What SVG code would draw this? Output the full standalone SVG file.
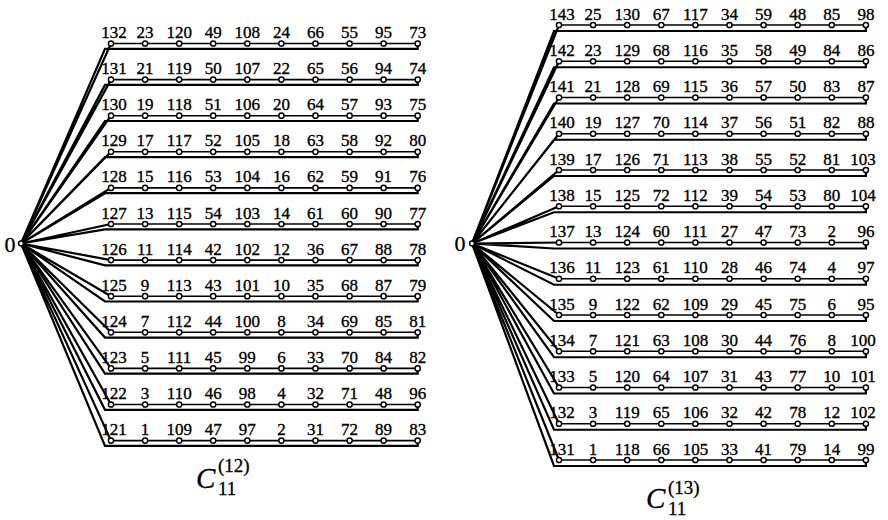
<svg xmlns="http://www.w3.org/2000/svg" width="888" height="520" viewBox="0 0 888 520">
<style>
  .thin { fill: none; stroke: #000; stroke-width: 1.6; }
  .thick { fill: none; stroke: #000; stroke-width: 2.2; stroke-linejoin: miter; }
  .v { fill: #fff; stroke: #000; stroke-width: 1.5; }
  .t { font-family: "Liberation Serif", "Times New Roman", serif; font-size: 17px; text-anchor: middle; fill: #000; stroke: #000; stroke-width: 0.35; }
  .hub { font-family: "Liberation Serif", "Times New Roman", serif; font-size: 22px; text-anchor: middle; fill: #000; stroke: #000; stroke-width: 0.3; }
  .cap { font-family: "Liberation Serif", "Times New Roman", serif; font-size: 29px; font-style: italic; fill: #000; stroke: #000; stroke-width: 0.3; }
  .idx { font-family: "Liberation Serif", "Times New Roman", serif; font-size: 19px; fill: #000; stroke: #000; stroke-width: 0.3; }
</style>
<rect width="888" height="520" fill="#fff"/>

<!-- connectors: each row is a cycle hub -> path of ten vertices -> return line -> hub -->
<g id="connectors">
  <g id="left-edges">
    <path class="thin" d="M111 43.5H417.7"/><path class="thick" d="M111 43.5L21 243.5L105 48.8H417.7V43.5"/>
    <path class="thin" d="M111 79.6H417.7"/><path class="thick" d="M111 79.6L21 243.5L105 84.9H417.7V79.6"/>
    <path class="thin" d="M111 115.7H417.7"/><path class="thick" d="M111 115.7L21 243.5L105 121H417.7V115.7"/>
    <path class="thin" d="M111 151.8H417.7"/><path class="thick" d="M111 151.8L21 243.5L105 157.1H417.7V151.8"/>
    <path class="thin" d="M111 187.9H417.7"/><path class="thick" d="M111 187.9L21 243.5L105 193.2H417.7V187.9"/>
    <path class="thin" d="M111 224H417.7"/><path class="thick" d="M111 224L21 243.5L105 229.3H417.7V224"/>
    <path class="thin" d="M111 260.1H417.7"/><path class="thick" d="M111 260.1L21 243.5L105 265.4H417.7V260.1"/>
    <path class="thin" d="M111 296.2H417.7"/><path class="thick" d="M111 296.2L21 243.5L105 301.5H417.7V296.2"/>
    <path class="thin" d="M111 332.3H417.7"/><path class="thick" d="M111 332.3L21 243.5L105 337.6H417.7V332.3"/>
    <path class="thin" d="M111 368.4H417.7"/><path class="thick" d="M111 368.4L21 243.5L105 373.7H417.7V368.4"/>
    <path class="thin" d="M111 404.5H417.7"/><path class="thick" d="M111 404.5L21 243.5L105 409.8H417.7V404.5"/>
    <path class="thin" d="M111 440.6H417.7"/><path class="thick" d="M111 440.6L21 243.5L105 445.9H417.7V440.6"/>
  </g>
  <g id="right-edges">
    <path class="thin" d="M559 25H865.9"/><path class="thick" d="M559 25L472 243.5L554 31H865.9V25"/>
    <path class="thin" d="M559 61.25H865.9"/><path class="thick" d="M559 61.25L472 243.5L554 67.25H865.9V61.25"/>
    <path class="thin" d="M559 97.5H865.9"/><path class="thick" d="M559 97.5L472 243.5L554 103.5H865.9V97.5"/>
    <path class="thin" d="M559 133.75H865.9"/><path class="thick" d="M559 133.75L472 243.5L554 139.75H865.9V133.75"/>
    <path class="thin" d="M559 170H865.9"/><path class="thick" d="M559 170L472 243.5L554 176H865.9V170"/>
    <path class="thin" d="M559 206.25H865.9"/><path class="thick" d="M559 206.25L472 243.5L554 212.25H865.9V206.25"/>
    <path class="thin" d="M559 242.5H865.9"/><path class="thick" d="M559 242.5L472 243.5L554 248.5H865.9V242.5"/>
    <path class="thin" d="M559 278.75H865.9"/><path class="thick" d="M559 278.75L472 243.5L554 284.75H865.9V278.75"/>
    <path class="thin" d="M559 315H865.9"/><path class="thick" d="M559 315L472 243.5L554 321H865.9V315"/>
    <path class="thin" d="M559 351.25H865.9"/><path class="thick" d="M559 351.25L472 243.5L554 357.25H865.9V351.25"/>
    <path class="thin" d="M559 387.5H865.9"/><path class="thick" d="M559 387.5L472 243.5L554 393.5H865.9V387.5"/>
    <path class="thin" d="M559 423.75H865.9"/><path class="thick" d="M559 423.75L472 243.5L554 429.75H865.9V423.75"/>
    <path class="thin" d="M559 460H865.9"/><path class="thick" d="M559 460L472 243.5L554 466H865.9V460"/>
  </g>
</g>

<!-- left graph C11^(12) -->
<g id="a0"><circle class="v" cx="21" cy="243.5" r="2.4"/><text class="hub" x="10" y="252">0</text></g>

<g id="a-row1">
<g id="a1-1" transform="translate(111 43.5)"><circle class="v" r="2.6"/><text class="t" x="3" y="-5.5">132</text></g>
<g id="a1-2" transform="translate(145.1 43.5)"><circle class="v" r="2.6"/><text class="t" y="-5.5">23</text></g>
<g id="a1-3" transform="translate(179.2 43.5)"><circle class="v" r="2.6"/><text class="t" y="-5.5">120</text></g>
<g id="a1-4" transform="translate(213.2 43.5)"><circle class="v" r="2.6"/><text class="t" y="-5.5">49</text></g>
<g id="a1-5" transform="translate(247.3 43.5)"><circle class="v" r="2.6"/><text class="t" y="-5.5">108</text></g>
<g id="a1-6" transform="translate(281.4 43.5)"><circle class="v" r="2.6"/><text class="t" y="-5.5">24</text></g>
<g id="a1-7" transform="translate(315.5 43.5)"><circle class="v" r="2.6"/><text class="t" y="-5.5">66</text></g>
<g id="a1-8" transform="translate(349.6 43.5)"><circle class="v" r="2.6"/><text class="t" y="-5.5">55</text></g>
<g id="a1-9" transform="translate(383.6 43.5)"><circle class="v" r="2.6"/><text class="t" y="-5.5">95</text></g>
<g id="a1-10" transform="translate(417.7 43.5)"><circle class="v" r="2.6"/><text class="t" y="-5.5">73</text></g>
</g>
<g id="a-row2">
<g id="a2-1" transform="translate(111 79.6)"><circle class="v" r="2.6"/><text class="t" x="3" y="-5.5">131</text></g>
<g id="a2-2" transform="translate(145.1 79.6)"><circle class="v" r="2.6"/><text class="t" y="-5.5">21</text></g>
<g id="a2-3" transform="translate(179.2 79.6)"><circle class="v" r="2.6"/><text class="t" y="-5.5">119</text></g>
<g id="a2-4" transform="translate(213.2 79.6)"><circle class="v" r="2.6"/><text class="t" y="-5.5">50</text></g>
<g id="a2-5" transform="translate(247.3 79.6)"><circle class="v" r="2.6"/><text class="t" y="-5.5">107</text></g>
<g id="a2-6" transform="translate(281.4 79.6)"><circle class="v" r="2.6"/><text class="t" y="-5.5">22</text></g>
<g id="a2-7" transform="translate(315.5 79.6)"><circle class="v" r="2.6"/><text class="t" y="-5.5">65</text></g>
<g id="a2-8" transform="translate(349.6 79.6)"><circle class="v" r="2.6"/><text class="t" y="-5.5">56</text></g>
<g id="a2-9" transform="translate(383.6 79.6)"><circle class="v" r="2.6"/><text class="t" y="-5.5">94</text></g>
<g id="a2-10" transform="translate(417.7 79.6)"><circle class="v" r="2.6"/><text class="t" y="-5.5">74</text></g>
</g>
<g id="a-row3">
<g id="a3-1" transform="translate(111 115.7)"><circle class="v" r="2.6"/><text class="t" x="3" y="-5.5">130</text></g>
<g id="a3-2" transform="translate(145.1 115.7)"><circle class="v" r="2.6"/><text class="t" y="-5.5">19</text></g>
<g id="a3-3" transform="translate(179.2 115.7)"><circle class="v" r="2.6"/><text class="t" y="-5.5">118</text></g>
<g id="a3-4" transform="translate(213.2 115.7)"><circle class="v" r="2.6"/><text class="t" y="-5.5">51</text></g>
<g id="a3-5" transform="translate(247.3 115.7)"><circle class="v" r="2.6"/><text class="t" y="-5.5">106</text></g>
<g id="a3-6" transform="translate(281.4 115.7)"><circle class="v" r="2.6"/><text class="t" y="-5.5">20</text></g>
<g id="a3-7" transform="translate(315.5 115.7)"><circle class="v" r="2.6"/><text class="t" y="-5.5">64</text></g>
<g id="a3-8" transform="translate(349.6 115.7)"><circle class="v" r="2.6"/><text class="t" y="-5.5">57</text></g>
<g id="a3-9" transform="translate(383.6 115.7)"><circle class="v" r="2.6"/><text class="t" y="-5.5">93</text></g>
<g id="a3-10" transform="translate(417.7 115.7)"><circle class="v" r="2.6"/><text class="t" y="-5.5">75</text></g>
</g>
<g id="a-row4">
<g id="a4-1" transform="translate(111 151.8)"><circle class="v" r="2.6"/><text class="t" x="3" y="-5.5">129</text></g>
<g id="a4-2" transform="translate(145.1 151.8)"><circle class="v" r="2.6"/><text class="t" y="-5.5">17</text></g>
<g id="a4-3" transform="translate(179.2 151.8)"><circle class="v" r="2.6"/><text class="t" y="-5.5">117</text></g>
<g id="a4-4" transform="translate(213.2 151.8)"><circle class="v" r="2.6"/><text class="t" y="-5.5">52</text></g>
<g id="a4-5" transform="translate(247.3 151.8)"><circle class="v" r="2.6"/><text class="t" y="-5.5">105</text></g>
<g id="a4-6" transform="translate(281.4 151.8)"><circle class="v" r="2.6"/><text class="t" y="-5.5">18</text></g>
<g id="a4-7" transform="translate(315.5 151.8)"><circle class="v" r="2.6"/><text class="t" y="-5.5">63</text></g>
<g id="a4-8" transform="translate(349.6 151.8)"><circle class="v" r="2.6"/><text class="t" y="-5.5">58</text></g>
<g id="a4-9" transform="translate(383.6 151.8)"><circle class="v" r="2.6"/><text class="t" y="-5.5">92</text></g>
<g id="a4-10" transform="translate(417.7 151.8)"><circle class="v" r="2.6"/><text class="t" y="-5.5">80</text></g>
</g>
<g id="a-row5">
<g id="a5-1" transform="translate(111 187.9)"><circle class="v" r="2.6"/><text class="t" x="3" y="-5.5">128</text></g>
<g id="a5-2" transform="translate(145.1 187.9)"><circle class="v" r="2.6"/><text class="t" y="-5.5">15</text></g>
<g id="a5-3" transform="translate(179.2 187.9)"><circle class="v" r="2.6"/><text class="t" y="-5.5">116</text></g>
<g id="a5-4" transform="translate(213.2 187.9)"><circle class="v" r="2.6"/><text class="t" y="-5.5">53</text></g>
<g id="a5-5" transform="translate(247.3 187.9)"><circle class="v" r="2.6"/><text class="t" y="-5.5">104</text></g>
<g id="a5-6" transform="translate(281.4 187.9)"><circle class="v" r="2.6"/><text class="t" y="-5.5">16</text></g>
<g id="a5-7" transform="translate(315.5 187.9)"><circle class="v" r="2.6"/><text class="t" y="-5.5">62</text></g>
<g id="a5-8" transform="translate(349.6 187.9)"><circle class="v" r="2.6"/><text class="t" y="-5.5">59</text></g>
<g id="a5-9" transform="translate(383.6 187.9)"><circle class="v" r="2.6"/><text class="t" y="-5.5">91</text></g>
<g id="a5-10" transform="translate(417.7 187.9)"><circle class="v" r="2.6"/><text class="t" y="-5.5">76</text></g>
</g>
<g id="a-row6">
<g id="a6-1" transform="translate(111 224)"><circle class="v" r="2.6"/><text class="t" x="3" y="-5.5">127</text></g>
<g id="a6-2" transform="translate(145.1 224)"><circle class="v" r="2.6"/><text class="t" y="-5.5">13</text></g>
<g id="a6-3" transform="translate(179.2 224)"><circle class="v" r="2.6"/><text class="t" y="-5.5">115</text></g>
<g id="a6-4" transform="translate(213.2 224)"><circle class="v" r="2.6"/><text class="t" y="-5.5">54</text></g>
<g id="a6-5" transform="translate(247.3 224)"><circle class="v" r="2.6"/><text class="t" y="-5.5">103</text></g>
<g id="a6-6" transform="translate(281.4 224)"><circle class="v" r="2.6"/><text class="t" y="-5.5">14</text></g>
<g id="a6-7" transform="translate(315.5 224)"><circle class="v" r="2.6"/><text class="t" y="-5.5">61</text></g>
<g id="a6-8" transform="translate(349.6 224)"><circle class="v" r="2.6"/><text class="t" y="-5.5">60</text></g>
<g id="a6-9" transform="translate(383.6 224)"><circle class="v" r="2.6"/><text class="t" y="-5.5">90</text></g>
<g id="a6-10" transform="translate(417.7 224)"><circle class="v" r="2.6"/><text class="t" y="-5.5">77</text></g>
</g>
<g id="a-row7">
<g id="a7-1" transform="translate(111 260.1)"><circle class="v" r="2.6"/><text class="t" x="3" y="-5.5">126</text></g>
<g id="a7-2" transform="translate(145.1 260.1)"><circle class="v" r="2.6"/><text class="t" y="-5.5">11</text></g>
<g id="a7-3" transform="translate(179.2 260.1)"><circle class="v" r="2.6"/><text class="t" y="-5.5">114</text></g>
<g id="a7-4" transform="translate(213.2 260.1)"><circle class="v" r="2.6"/><text class="t" y="-5.5">42</text></g>
<g id="a7-5" transform="translate(247.3 260.1)"><circle class="v" r="2.6"/><text class="t" y="-5.5">102</text></g>
<g id="a7-6" transform="translate(281.4 260.1)"><circle class="v" r="2.6"/><text class="t" y="-5.5">12</text></g>
<g id="a7-7" transform="translate(315.5 260.1)"><circle class="v" r="2.6"/><text class="t" y="-5.5">36</text></g>
<g id="a7-8" transform="translate(349.6 260.1)"><circle class="v" r="2.6"/><text class="t" y="-5.5">67</text></g>
<g id="a7-9" transform="translate(383.6 260.1)"><circle class="v" r="2.6"/><text class="t" y="-5.5">88</text></g>
<g id="a7-10" transform="translate(417.7 260.1)"><circle class="v" r="2.6"/><text class="t" y="-5.5">78</text></g>
</g>
<g id="a-row8">
<g id="a8-1" transform="translate(111 296.2)"><circle class="v" r="2.6"/><text class="t" x="3" y="-5.5">125</text></g>
<g id="a8-2" transform="translate(145.1 296.2)"><circle class="v" r="2.6"/><text class="t" y="-5.5">9</text></g>
<g id="a8-3" transform="translate(179.2 296.2)"><circle class="v" r="2.6"/><text class="t" y="-5.5">113</text></g>
<g id="a8-4" transform="translate(213.2 296.2)"><circle class="v" r="2.6"/><text class="t" y="-5.5">43</text></g>
<g id="a8-5" transform="translate(247.3 296.2)"><circle class="v" r="2.6"/><text class="t" y="-5.5">101</text></g>
<g id="a8-6" transform="translate(281.4 296.2)"><circle class="v" r="2.6"/><text class="t" y="-5.5">10</text></g>
<g id="a8-7" transform="translate(315.5 296.2)"><circle class="v" r="2.6"/><text class="t" y="-5.5">35</text></g>
<g id="a8-8" transform="translate(349.6 296.2)"><circle class="v" r="2.6"/><text class="t" y="-5.5">68</text></g>
<g id="a8-9" transform="translate(383.6 296.2)"><circle class="v" r="2.6"/><text class="t" y="-5.5">87</text></g>
<g id="a8-10" transform="translate(417.7 296.2)"><circle class="v" r="2.6"/><text class="t" y="-5.5">79</text></g>
</g>
<g id="a-row9">
<g id="a9-1" transform="translate(111 332.3)"><circle class="v" r="2.6"/><text class="t" x="3" y="-5.5">124</text></g>
<g id="a9-2" transform="translate(145.1 332.3)"><circle class="v" r="2.6"/><text class="t" y="-5.5">7</text></g>
<g id="a9-3" transform="translate(179.2 332.3)"><circle class="v" r="2.6"/><text class="t" y="-5.5">112</text></g>
<g id="a9-4" transform="translate(213.2 332.3)"><circle class="v" r="2.6"/><text class="t" y="-5.5">44</text></g>
<g id="a9-5" transform="translate(247.3 332.3)"><circle class="v" r="2.6"/><text class="t" y="-5.5">100</text></g>
<g id="a9-6" transform="translate(281.4 332.3)"><circle class="v" r="2.6"/><text class="t" y="-5.5">8</text></g>
<g id="a9-7" transform="translate(315.5 332.3)"><circle class="v" r="2.6"/><text class="t" y="-5.5">34</text></g>
<g id="a9-8" transform="translate(349.6 332.3)"><circle class="v" r="2.6"/><text class="t" y="-5.5">69</text></g>
<g id="a9-9" transform="translate(383.6 332.3)"><circle class="v" r="2.6"/><text class="t" y="-5.5">85</text></g>
<g id="a9-10" transform="translate(417.7 332.3)"><circle class="v" r="2.6"/><text class="t" y="-5.5">81</text></g>
</g>
<g id="a-row10">
<g id="a10-1" transform="translate(111 368.4)"><circle class="v" r="2.6"/><text class="t" x="3" y="-5.5">123</text></g>
<g id="a10-2" transform="translate(145.1 368.4)"><circle class="v" r="2.6"/><text class="t" y="-5.5">5</text></g>
<g id="a10-3" transform="translate(179.2 368.4)"><circle class="v" r="2.6"/><text class="t" y="-5.5">111</text></g>
<g id="a10-4" transform="translate(213.2 368.4)"><circle class="v" r="2.6"/><text class="t" y="-5.5">45</text></g>
<g id="a10-5" transform="translate(247.3 368.4)"><circle class="v" r="2.6"/><text class="t" y="-5.5">99</text></g>
<g id="a10-6" transform="translate(281.4 368.4)"><circle class="v" r="2.6"/><text class="t" y="-5.5">6</text></g>
<g id="a10-7" transform="translate(315.5 368.4)"><circle class="v" r="2.6"/><text class="t" y="-5.5">33</text></g>
<g id="a10-8" transform="translate(349.6 368.4)"><circle class="v" r="2.6"/><text class="t" y="-5.5">70</text></g>
<g id="a10-9" transform="translate(383.6 368.4)"><circle class="v" r="2.6"/><text class="t" y="-5.5">84</text></g>
<g id="a10-10" transform="translate(417.7 368.4)"><circle class="v" r="2.6"/><text class="t" y="-5.5">82</text></g>
</g>
<g id="a-row11">
<g id="a11-1" transform="translate(111 404.5)"><circle class="v" r="2.6"/><text class="t" x="3" y="-5.5">122</text></g>
<g id="a11-2" transform="translate(145.1 404.5)"><circle class="v" r="2.6"/><text class="t" y="-5.5">3</text></g>
<g id="a11-3" transform="translate(179.2 404.5)"><circle class="v" r="2.6"/><text class="t" y="-5.5">110</text></g>
<g id="a11-4" transform="translate(213.2 404.5)"><circle class="v" r="2.6"/><text class="t" y="-5.5">46</text></g>
<g id="a11-5" transform="translate(247.3 404.5)"><circle class="v" r="2.6"/><text class="t" y="-5.5">98</text></g>
<g id="a11-6" transform="translate(281.4 404.5)"><circle class="v" r="2.6"/><text class="t" y="-5.5">4</text></g>
<g id="a11-7" transform="translate(315.5 404.5)"><circle class="v" r="2.6"/><text class="t" y="-5.5">32</text></g>
<g id="a11-8" transform="translate(349.6 404.5)"><circle class="v" r="2.6"/><text class="t" y="-5.5">71</text></g>
<g id="a11-9" transform="translate(383.6 404.5)"><circle class="v" r="2.6"/><text class="t" y="-5.5">48</text></g>
<g id="a11-10" transform="translate(417.7 404.5)"><circle class="v" r="2.6"/><text class="t" y="-5.5">96</text></g>
</g>
<g id="a-row12">
<g id="a12-1" transform="translate(111 440.6)"><circle class="v" r="2.6"/><text class="t" x="3" y="-5.5">121</text></g>
<g id="a12-2" transform="translate(145.1 440.6)"><circle class="v" r="2.6"/><text class="t" y="-5.5">1</text></g>
<g id="a12-3" transform="translate(179.2 440.6)"><circle class="v" r="2.6"/><text class="t" y="-5.5">109</text></g>
<g id="a12-4" transform="translate(213.2 440.6)"><circle class="v" r="2.6"/><text class="t" y="-5.5">47</text></g>
<g id="a12-5" transform="translate(247.3 440.6)"><circle class="v" r="2.6"/><text class="t" y="-5.5">97</text></g>
<g id="a12-6" transform="translate(281.4 440.6)"><circle class="v" r="2.6"/><text class="t" y="-5.5">2</text></g>
<g id="a12-7" transform="translate(315.5 440.6)"><circle class="v" r="2.6"/><text class="t" y="-5.5">31</text></g>
<g id="a12-8" transform="translate(349.6 440.6)"><circle class="v" r="2.6"/><text class="t" y="-5.5">72</text></g>
<g id="a12-9" transform="translate(383.6 440.6)"><circle class="v" r="2.6"/><text class="t" y="-5.5">89</text></g>
<g id="a12-10" transform="translate(417.7 440.6)"><circle class="v" r="2.6"/><text class="t" y="-5.5">83</text></g>
</g>
<g id="a-caption"><text class="cap" x="196" y="488">C</text><text class="idx" x="218" y="472">(12)</text><text class="idx" x="218" y="495">11</text></g>

<!-- right graph C11^(13) -->
<g id="b0"><circle class="v" cx="472" cy="243.5" r="2.4"/><text class="hub" x="460" y="251">0</text></g>

<g id="b-row1">
<g id="b1-1" transform="translate(559 25)"><circle class="v" r="2.6"/><text class="t" x="3" y="-5.5">143</text></g>
<g id="b1-2" transform="translate(593.1 25)"><circle class="v" r="2.6"/><text class="t" y="-5.5">25</text></g>
<g id="b1-3" transform="translate(627.2 25)"><circle class="v" r="2.6"/><text class="t" y="-5.5">130</text></g>
<g id="b1-4" transform="translate(661.3 25)"><circle class="v" r="2.6"/><text class="t" y="-5.5">67</text></g>
<g id="b1-5" transform="translate(695.4 25)"><circle class="v" r="2.6"/><text class="t" y="-5.5">117</text></g>
<g id="b1-6" transform="translate(729.5 25)"><circle class="v" r="2.6"/><text class="t" y="-5.5">34</text></g>
<g id="b1-7" transform="translate(763.6 25)"><circle class="v" r="2.6"/><text class="t" y="-5.5">59</text></g>
<g id="b1-8" transform="translate(797.7 25)"><circle class="v" r="2.6"/><text class="t" y="-5.5">48</text></g>
<g id="b1-9" transform="translate(831.8 25)"><circle class="v" r="2.6"/><text class="t" y="-5.5">85</text></g>
<g id="b1-10" transform="translate(865.9 25)"><circle class="v" r="2.6"/><text class="t" y="-5.5">98</text></g>
</g>
<g id="b-row2">
<g id="b2-1" transform="translate(559 61.25)"><circle class="v" r="2.6"/><text class="t" x="3" y="-5.5">142</text></g>
<g id="b2-2" transform="translate(593.1 61.25)"><circle class="v" r="2.6"/><text class="t" y="-5.5">23</text></g>
<g id="b2-3" transform="translate(627.2 61.25)"><circle class="v" r="2.6"/><text class="t" y="-5.5">129</text></g>
<g id="b2-4" transform="translate(661.3 61.25)"><circle class="v" r="2.6"/><text class="t" y="-5.5">68</text></g>
<g id="b2-5" transform="translate(695.4 61.25)"><circle class="v" r="2.6"/><text class="t" y="-5.5">116</text></g>
<g id="b2-6" transform="translate(729.5 61.25)"><circle class="v" r="2.6"/><text class="t" y="-5.5">35</text></g>
<g id="b2-7" transform="translate(763.6 61.25)"><circle class="v" r="2.6"/><text class="t" y="-5.5">58</text></g>
<g id="b2-8" transform="translate(797.7 61.25)"><circle class="v" r="2.6"/><text class="t" y="-5.5">49</text></g>
<g id="b2-9" transform="translate(831.8 61.25)"><circle class="v" r="2.6"/><text class="t" y="-5.5">84</text></g>
<g id="b2-10" transform="translate(865.9 61.25)"><circle class="v" r="2.6"/><text class="t" y="-5.5">86</text></g>
</g>
<g id="b-row3">
<g id="b3-1" transform="translate(559 97.5)"><circle class="v" r="2.6"/><text class="t" x="3" y="-5.5">141</text></g>
<g id="b3-2" transform="translate(593.1 97.5)"><circle class="v" r="2.6"/><text class="t" y="-5.5">21</text></g>
<g id="b3-3" transform="translate(627.2 97.5)"><circle class="v" r="2.6"/><text class="t" y="-5.5">128</text></g>
<g id="b3-4" transform="translate(661.3 97.5)"><circle class="v" r="2.6"/><text class="t" y="-5.5">69</text></g>
<g id="b3-5" transform="translate(695.4 97.5)"><circle class="v" r="2.6"/><text class="t" y="-5.5">115</text></g>
<g id="b3-6" transform="translate(729.5 97.5)"><circle class="v" r="2.6"/><text class="t" y="-5.5">36</text></g>
<g id="b3-7" transform="translate(763.6 97.5)"><circle class="v" r="2.6"/><text class="t" y="-5.5">57</text></g>
<g id="b3-8" transform="translate(797.7 97.5)"><circle class="v" r="2.6"/><text class="t" y="-5.5">50</text></g>
<g id="b3-9" transform="translate(831.8 97.5)"><circle class="v" r="2.6"/><text class="t" y="-5.5">83</text></g>
<g id="b3-10" transform="translate(865.9 97.5)"><circle class="v" r="2.6"/><text class="t" y="-5.5">87</text></g>
</g>
<g id="b-row4">
<g id="b4-1" transform="translate(559 133.75)"><circle class="v" r="2.6"/><text class="t" x="3" y="-5.5">140</text></g>
<g id="b4-2" transform="translate(593.1 133.75)"><circle class="v" r="2.6"/><text class="t" y="-5.5">19</text></g>
<g id="b4-3" transform="translate(627.2 133.75)"><circle class="v" r="2.6"/><text class="t" y="-5.5">127</text></g>
<g id="b4-4" transform="translate(661.3 133.75)"><circle class="v" r="2.6"/><text class="t" y="-5.5">70</text></g>
<g id="b4-5" transform="translate(695.4 133.75)"><circle class="v" r="2.6"/><text class="t" y="-5.5">114</text></g>
<g id="b4-6" transform="translate(729.5 133.75)"><circle class="v" r="2.6"/><text class="t" y="-5.5">37</text></g>
<g id="b4-7" transform="translate(763.6 133.75)"><circle class="v" r="2.6"/><text class="t" y="-5.5">56</text></g>
<g id="b4-8" transform="translate(797.7 133.75)"><circle class="v" r="2.6"/><text class="t" y="-5.5">51</text></g>
<g id="b4-9" transform="translate(831.8 133.75)"><circle class="v" r="2.6"/><text class="t" y="-5.5">82</text></g>
<g id="b4-10" transform="translate(865.9 133.75)"><circle class="v" r="2.6"/><text class="t" y="-5.5">88</text></g>
</g>
<g id="b-row5">
<g id="b5-1" transform="translate(559 170)"><circle class="v" r="2.6"/><text class="t" x="3" y="-5.5">139</text></g>
<g id="b5-2" transform="translate(593.1 170)"><circle class="v" r="2.6"/><text class="t" y="-5.5">17</text></g>
<g id="b5-3" transform="translate(627.2 170)"><circle class="v" r="2.6"/><text class="t" y="-5.5">126</text></g>
<g id="b5-4" transform="translate(661.3 170)"><circle class="v" r="2.6"/><text class="t" y="-5.5">71</text></g>
<g id="b5-5" transform="translate(695.4 170)"><circle class="v" r="2.6"/><text class="t" y="-5.5">113</text></g>
<g id="b5-6" transform="translate(729.5 170)"><circle class="v" r="2.6"/><text class="t" y="-5.5">38</text></g>
<g id="b5-7" transform="translate(763.6 170)"><circle class="v" r="2.6"/><text class="t" y="-5.5">55</text></g>
<g id="b5-8" transform="translate(797.7 170)"><circle class="v" r="2.6"/><text class="t" y="-5.5">52</text></g>
<g id="b5-9" transform="translate(831.8 170)"><circle class="v" r="2.6"/><text class="t" y="-5.5">81</text></g>
<g id="b5-10" transform="translate(865.9 170)"><circle class="v" r="2.6"/><text class="t" x="-3" y="-5.5">103</text></g>
</g>
<g id="b-row6">
<g id="b6-1" transform="translate(559 206.25)"><circle class="v" r="2.6"/><text class="t" x="3" y="-5.5">138</text></g>
<g id="b6-2" transform="translate(593.1 206.25)"><circle class="v" r="2.6"/><text class="t" y="-5.5">15</text></g>
<g id="b6-3" transform="translate(627.2 206.25)"><circle class="v" r="2.6"/><text class="t" y="-5.5">125</text></g>
<g id="b6-4" transform="translate(661.3 206.25)"><circle class="v" r="2.6"/><text class="t" y="-5.5">72</text></g>
<g id="b6-5" transform="translate(695.4 206.25)"><circle class="v" r="2.6"/><text class="t" y="-5.5">112</text></g>
<g id="b6-6" transform="translate(729.5 206.25)"><circle class="v" r="2.6"/><text class="t" y="-5.5">39</text></g>
<g id="b6-7" transform="translate(763.6 206.25)"><circle class="v" r="2.6"/><text class="t" y="-5.5">54</text></g>
<g id="b6-8" transform="translate(797.7 206.25)"><circle class="v" r="2.6"/><text class="t" y="-5.5">53</text></g>
<g id="b6-9" transform="translate(831.8 206.25)"><circle class="v" r="2.6"/><text class="t" y="-5.5">80</text></g>
<g id="b6-10" transform="translate(865.9 206.25)"><circle class="v" r="2.6"/><text class="t" x="-3" y="-5.5">104</text></g>
</g>
<g id="b-row7">
<g id="b7-1" transform="translate(559 242.5)"><circle class="v" r="2.6"/><text class="t" x="3" y="-5.5">137</text></g>
<g id="b7-2" transform="translate(593.1 242.5)"><circle class="v" r="2.6"/><text class="t" y="-5.5">13</text></g>
<g id="b7-3" transform="translate(627.2 242.5)"><circle class="v" r="2.6"/><text class="t" y="-5.5">124</text></g>
<g id="b7-4" transform="translate(661.3 242.5)"><circle class="v" r="2.6"/><text class="t" y="-5.5">60</text></g>
<g id="b7-5" transform="translate(695.4 242.5)"><circle class="v" r="2.6"/><text class="t" y="-5.5">111</text></g>
<g id="b7-6" transform="translate(729.5 242.5)"><circle class="v" r="2.6"/><text class="t" y="-5.5">27</text></g>
<g id="b7-7" transform="translate(763.6 242.5)"><circle class="v" r="2.6"/><text class="t" y="-5.5">47</text></g>
<g id="b7-8" transform="translate(797.7 242.5)"><circle class="v" r="2.6"/><text class="t" y="-5.5">73</text></g>
<g id="b7-9" transform="translate(831.8 242.5)"><circle class="v" r="2.6"/><text class="t" y="-5.5">2</text></g>
<g id="b7-10" transform="translate(865.9 242.5)"><circle class="v" r="2.6"/><text class="t" y="-5.5">96</text></g>
</g>
<g id="b-row8">
<g id="b8-1" transform="translate(559 278.75)"><circle class="v" r="2.6"/><text class="t" x="3" y="-5.5">136</text></g>
<g id="b8-2" transform="translate(593.1 278.75)"><circle class="v" r="2.6"/><text class="t" y="-5.5">11</text></g>
<g id="b8-3" transform="translate(627.2 278.75)"><circle class="v" r="2.6"/><text class="t" y="-5.5">123</text></g>
<g id="b8-4" transform="translate(661.3 278.75)"><circle class="v" r="2.6"/><text class="t" y="-5.5">61</text></g>
<g id="b8-5" transform="translate(695.4 278.75)"><circle class="v" r="2.6"/><text class="t" y="-5.5">110</text></g>
<g id="b8-6" transform="translate(729.5 278.75)"><circle class="v" r="2.6"/><text class="t" y="-5.5">28</text></g>
<g id="b8-7" transform="translate(763.6 278.75)"><circle class="v" r="2.6"/><text class="t" y="-5.5">46</text></g>
<g id="b8-8" transform="translate(797.7 278.75)"><circle class="v" r="2.6"/><text class="t" y="-5.5">74</text></g>
<g id="b8-9" transform="translate(831.8 278.75)"><circle class="v" r="2.6"/><text class="t" y="-5.5">4</text></g>
<g id="b8-10" transform="translate(865.9 278.75)"><circle class="v" r="2.6"/><text class="t" y="-5.5">97</text></g>
</g>
<g id="b-row9">
<g id="b9-1" transform="translate(559 315)"><circle class="v" r="2.6"/><text class="t" x="3" y="-5.5">135</text></g>
<g id="b9-2" transform="translate(593.1 315)"><circle class="v" r="2.6"/><text class="t" y="-5.5">9</text></g>
<g id="b9-3" transform="translate(627.2 315)"><circle class="v" r="2.6"/><text class="t" y="-5.5">122</text></g>
<g id="b9-4" transform="translate(661.3 315)"><circle class="v" r="2.6"/><text class="t" y="-5.5">62</text></g>
<g id="b9-5" transform="translate(695.4 315)"><circle class="v" r="2.6"/><text class="t" y="-5.5">109</text></g>
<g id="b9-6" transform="translate(729.5 315)"><circle class="v" r="2.6"/><text class="t" y="-5.5">29</text></g>
<g id="b9-7" transform="translate(763.6 315)"><circle class="v" r="2.6"/><text class="t" y="-5.5">45</text></g>
<g id="b9-8" transform="translate(797.7 315)"><circle class="v" r="2.6"/><text class="t" y="-5.5">75</text></g>
<g id="b9-9" transform="translate(831.8 315)"><circle class="v" r="2.6"/><text class="t" y="-5.5">6</text></g>
<g id="b9-10" transform="translate(865.9 315)"><circle class="v" r="2.6"/><text class="t" y="-5.5">95</text></g>
</g>
<g id="b-row10">
<g id="b10-1" transform="translate(559 351.25)"><circle class="v" r="2.6"/><text class="t" x="3" y="-5.5">134</text></g>
<g id="b10-2" transform="translate(593.1 351.25)"><circle class="v" r="2.6"/><text class="t" y="-5.5">7</text></g>
<g id="b10-3" transform="translate(627.2 351.25)"><circle class="v" r="2.6"/><text class="t" y="-5.5">121</text></g>
<g id="b10-4" transform="translate(661.3 351.25)"><circle class="v" r="2.6"/><text class="t" y="-5.5">63</text></g>
<g id="b10-5" transform="translate(695.4 351.25)"><circle class="v" r="2.6"/><text class="t" y="-5.5">108</text></g>
<g id="b10-6" transform="translate(729.5 351.25)"><circle class="v" r="2.6"/><text class="t" y="-5.5">30</text></g>
<g id="b10-7" transform="translate(763.6 351.25)"><circle class="v" r="2.6"/><text class="t" y="-5.5">44</text></g>
<g id="b10-8" transform="translate(797.7 351.25)"><circle class="v" r="2.6"/><text class="t" y="-5.5">76</text></g>
<g id="b10-9" transform="translate(831.8 351.25)"><circle class="v" r="2.6"/><text class="t" y="-5.5">8</text></g>
<g id="b10-10" transform="translate(865.9 351.25)"><circle class="v" r="2.6"/><text class="t" x="-3" y="-5.5">100</text></g>
</g>
<g id="b-row11">
<g id="b11-1" transform="translate(559 387.5)"><circle class="v" r="2.6"/><text class="t" x="3" y="-5.5">133</text></g>
<g id="b11-2" transform="translate(593.1 387.5)"><circle class="v" r="2.6"/><text class="t" y="-5.5">5</text></g>
<g id="b11-3" transform="translate(627.2 387.5)"><circle class="v" r="2.6"/><text class="t" y="-5.5">120</text></g>
<g id="b11-4" transform="translate(661.3 387.5)"><circle class="v" r="2.6"/><text class="t" y="-5.5">64</text></g>
<g id="b11-5" transform="translate(695.4 387.5)"><circle class="v" r="2.6"/><text class="t" y="-5.5">107</text></g>
<g id="b11-6" transform="translate(729.5 387.5)"><circle class="v" r="2.6"/><text class="t" y="-5.5">31</text></g>
<g id="b11-7" transform="translate(763.6 387.5)"><circle class="v" r="2.6"/><text class="t" y="-5.5">43</text></g>
<g id="b11-8" transform="translate(797.7 387.5)"><circle class="v" r="2.6"/><text class="t" y="-5.5">77</text></g>
<g id="b11-9" transform="translate(831.8 387.5)"><circle class="v" r="2.6"/><text class="t" y="-5.5">10</text></g>
<g id="b11-10" transform="translate(865.9 387.5)"><circle class="v" r="2.6"/><text class="t" x="-3" y="-5.5">101</text></g>
</g>
<g id="b-row12">
<g id="b12-1" transform="translate(559 423.75)"><circle class="v" r="2.6"/><text class="t" x="3" y="-5.5">132</text></g>
<g id="b12-2" transform="translate(593.1 423.75)"><circle class="v" r="2.6"/><text class="t" y="-5.5">3</text></g>
<g id="b12-3" transform="translate(627.2 423.75)"><circle class="v" r="2.6"/><text class="t" y="-5.5">119</text></g>
<g id="b12-4" transform="translate(661.3 423.75)"><circle class="v" r="2.6"/><text class="t" y="-5.5">65</text></g>
<g id="b12-5" transform="translate(695.4 423.75)"><circle class="v" r="2.6"/><text class="t" y="-5.5">106</text></g>
<g id="b12-6" transform="translate(729.5 423.75)"><circle class="v" r="2.6"/><text class="t" y="-5.5">32</text></g>
<g id="b12-7" transform="translate(763.6 423.75)"><circle class="v" r="2.6"/><text class="t" y="-5.5">42</text></g>
<g id="b12-8" transform="translate(797.7 423.75)"><circle class="v" r="2.6"/><text class="t" y="-5.5">78</text></g>
<g id="b12-9" transform="translate(831.8 423.75)"><circle class="v" r="2.6"/><text class="t" y="-5.5">12</text></g>
<g id="b12-10" transform="translate(865.9 423.75)"><circle class="v" r="2.6"/><text class="t" x="-3" y="-5.5">102</text></g>
</g>
<g id="b-row13">
<g id="b13-1" transform="translate(559 460)"><circle class="v" r="2.6"/><text class="t" x="3" y="-5.5">131</text></g>
<g id="b13-2" transform="translate(593.1 460)"><circle class="v" r="2.6"/><text class="t" y="-5.5">1</text></g>
<g id="b13-3" transform="translate(627.2 460)"><circle class="v" r="2.6"/><text class="t" y="-5.5">118</text></g>
<g id="b13-4" transform="translate(661.3 460)"><circle class="v" r="2.6"/><text class="t" y="-5.5">66</text></g>
<g id="b13-5" transform="translate(695.4 460)"><circle class="v" r="2.6"/><text class="t" y="-5.5">105</text></g>
<g id="b13-6" transform="translate(729.5 460)"><circle class="v" r="2.6"/><text class="t" y="-5.5">33</text></g>
<g id="b13-7" transform="translate(763.6 460)"><circle class="v" r="2.6"/><text class="t" y="-5.5">41</text></g>
<g id="b13-8" transform="translate(797.7 460)"><circle class="v" r="2.6"/><text class="t" y="-5.5">79</text></g>
<g id="b13-9" transform="translate(831.8 460)"><circle class="v" r="2.6"/><text class="t" y="-5.5">14</text></g>
<g id="b13-10" transform="translate(865.9 460)"><circle class="v" r="2.6"/><text class="t" y="-5.5">99</text></g>
</g>
<g id="b-caption"><text class="cap" x="646" y="508">C</text><text class="idx" x="668" y="494">(13)</text><text class="idx" x="668" y="515">11</text></g>
</svg>
